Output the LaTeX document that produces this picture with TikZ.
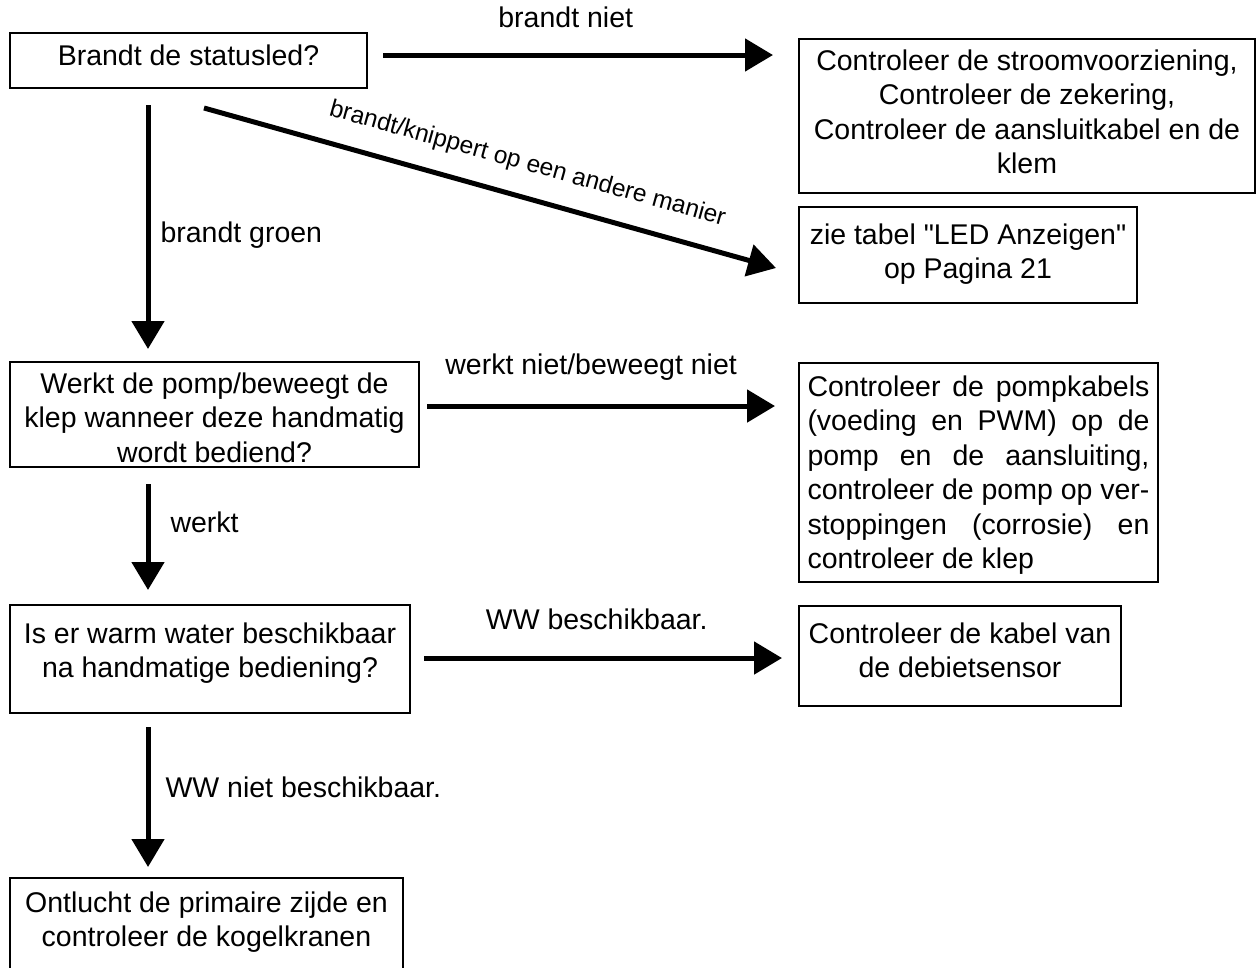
\documentclass[tikz,border=0pt]{standalone}
\usepackage{fontspec}
\newfontfamily\rob{Liberation Sans}
\usetikzlibrary{arrows.meta}
\newcommand{\bxt}[4]{\parbox[c][#2pt][t]{#1pt}{\centering\rule{0pt}{#3pt}#4\par}}
\begin{document}
\begin{tikzpicture}[x=1pt,y=-1pt,
  box/.style={draw, line width=2pt, inner sep=0pt, outer sep=0pt, anchor=north west,
    font=\rob\fontsize{28.5}{34.5}\selectfont},
  lab/.style={inner sep=0pt, font=\rob\fontsize{28.5}{34.5}\selectfont},
  labsm/.style={inner sep=0pt, font=\rob\fontsize{24.5}{29}\selectfont},
  arr/.style={line width=5pt, -{Triangle[width=32pt,length=28pt]}}]
\useasboundingbox (0,0) rectangle (1256,967);
\clip (0,0) rectangle (1256,967);

\node[box] (b1) at (10,33) {\bxt{357}{55}{32}{Brandt de statusled?}};
\node[box] (b2) at (799,39) {\bxt{456}{154}{31}{Controleer de stroomvoorziening,\\Controleer de zekering,\\Controleer de aansluitkabel en de\\klem}};
\node[box] (b3) at (799,207) {\bxt{338}{96}{37}{zie tabel "LED Anzeigen"\\op Pagina 21}};
\node[box] (b4) at (10,362) {\bxt{409}{105}{31}{Werkt de pomp/beweegt de\\klep wanneer deze handmatig\\wordt bediend?}};
\node[box] (b5) at (799,363) {\bxt{359}{219}{33}{%
\makebox[342pt][s]{Controleer de pompkabels}\\
\makebox[342pt][s]{(voeding en PWM) op de}\\
\makebox[342pt][s]{pomp en de aansluiting,}\\
\makebox[342pt][s]{controleer de pomp op ver-}\\
\makebox[342pt][s]{stoppingen (corrosie) en}\\
\makebox[342pt][l]{controleer de klep}}};
\node[box] (b6) at (10,605) {\bxt{400}{108}{38}{Is er warm water beschikbaar\\na handmatige bediening?}};
\node[box] (b7) at (799,606) {\bxt{322}{100}{37}{Controleer de kabel van\\de debietsensor}};
\node[box] (b8) at (10,878) {\bxt{393}{110}{34}{Ontlucht de primaire zijde en\\controleer de kogelkranen}};

\coordinate (d1) at (204,108);
\coordinate (d2) at (776,268);

\draw[arr, shorten <=16pt, shorten >=26pt] (b1.east |- 0,55) -- (b2.west |- 0,55)
  node[lab, pos=0.46, above=25pt] {brandt niet};
\draw[arr] (d1) -- (d2)
  node[labsm, pos=0.55, sloped, above=19pt] {brandt/knippert op een andere manier};
\draw[arr, shorten <=17pt, shorten >=13pt] (148,0 |- b1.south) -- (148,0 |- b4.north)
  node[lab, pos=0.536, anchor=west, xshift=10pt] {brandt groen};
\draw[arr, shorten <=8pt, shorten >=24pt] (b4.east |- 0,406) -- (b5.west |- 0,406)
  node[lab, pos=0.453, above=23pt] {werkt niet/beweegt niet};
\draw[arr, shorten <=17pt, shorten >=15pt] (148,0 |- b4.south) -- (148,0 |- b6.north)
  node[lab, pos=0.4, anchor=west, xshift=20pt] {werkt};
\draw[arr, shorten <=14pt, shorten >=17pt] (b6.east |- 0,658) -- (b7.west |- 0,658)
  node[lab, pos=0.48, above=26pt] {WW beschikbaar.};
\draw[arr, shorten <=14pt, shorten >=11pt] (148,0 |- b6.south) -- (148,0 |- b8.north)
  node[lab, pos=0.45, anchor=west, xshift=15pt] {WW niet beschikbaar.};
\end{tikzpicture}
\end{document}
